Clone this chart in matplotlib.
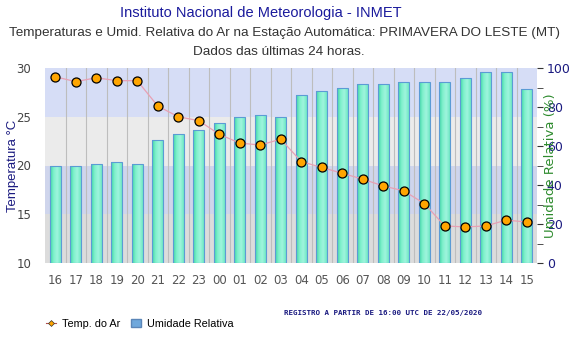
import matplotlib
matplotlib.use("Agg")
import matplotlib.pyplot as plt
import numpy as np
from matplotlib.lines import Line2D
from matplotlib.patches import Patch
from matplotlib.colors import LinearSegmentedColormap

hours = ["16", "17", "18", "19", "20", "21", "22", "23", "00", "01", "02", "03",
         "04", "05", "06", "07", "08", "09", "10", "11", "12", "13", "14", "15"]
temperature = [29.1, 28.6, 29.0, 28.7, 28.7, 26.1, 25.0, 24.6, 23.2, 22.3, 22.1, 22.7,
               20.4, 19.8, 19.2, 18.6, 17.9, 17.4, 16.1, 13.8, 13.7, 13.8, 14.4, 14.2]
humidity = [50, 50, 51, 52, 51, 63, 66, 68, 72, 75, 76, 75,
            86, 88, 90, 92, 92, 93, 93, 93, 95, 98, 98, 89]

title = "Instituto Nacional de Meteorologia - INMET"
subtitle = "Temperaturas e Umid. Relativa do Ar na Estação Automática: PRIMAVERA DO LESTE (MT)"
subtitle2 = "Dados das últimas 24 horas."
note = "REGISTRO A PARTIR DE 16:00 UTC DE 22/05/2020"

fig = plt.figure(figsize=(5.8, 3.5), dpi=100)
fig.patch.set_facecolor("white")
ax = fig.add_axes([45/580, 1-263/350, (537-45)/580, (263-68)/350])
x = np.arange(len(hours))

# background bands
ax.axhspan(75, 100, color="#d6ddf6", zorder=0, lw=0)
ax.axhspan(50, 75, color="#ebebeb", zorder=0, lw=0)
ax.axhspan(25, 50, color="#cfd5ec", zorder=0, lw=0)
ax.axhspan(0, 25, color="#dcdcdc", zorder=0, lw=0)
for b in np.arange(0.5, len(hours)-0.5, 1):
    ax.axvline(b, color="#bdbdbd", lw=0.8, zorder=1)

# bars with horizontal gradient
bars = ax.bar(x, humidity, width=0.52, color="none", edgecolor="#5b9bd5", lw=0.8, zorder=3)
grad = np.linspace(0, 1, 64).reshape(1, -1)
cmap = LinearSegmentedColormap.from_list("g", ["#3fd6a6", "#7ff0cc", "#9ff5dd", "#6fe8c4"])
for rect in bars:
    x0, w, h = rect.get_x(), rect.get_width(), rect.get_height()
    im = ax.imshow(grad, cmap=cmap, extent=[x0, x0+w, 0, h], aspect="auto", zorder=2)
    im.set_clip_path(rect)
ax.set_xlim(-0.5, len(hours)-0.5)
ax.set_ylim(0, 100)
ax.set_xticks(x)
ax.set_xticklabels(hours)
ax.tick_params(axis="x", length=0, colors="#555555", labelsize=8.5, pad=8)
for s in ax.spines.values():
    s.set_visible(False)

# temperature axis
ax_t = ax.twinx()
ax_t.set_ylim(10, 30)
ax_t.yaxis.tick_left()
ax_t.yaxis.set_label_position("left")
ax_t.set_yticks(np.arange(10, 31, 5))
ax_t.tick_params(axis="y", length=0, colors="#444444", labelsize=8.5, pad=10)
ax_t.set_ylabel("Temperatura °C", color="#1a1a80", fontsize=9.5,
                family="Liberation Sans")
ax_t.yaxis.set_label_coords(-0.053, 0.5)
for s in ax_t.spines.values():
    s.set_visible(False)
ax_t.plot(x, temperature, color="#e8a0b4", lw=0.9, zorder=4)
ax_t.plot(x, temperature, ls="none", marker="o", ms=6.5, mfc="#ffa500", mec="black",
          mew=0.9, zorder=5)

# humidity axis on right
ax.yaxis.tick_right()
ax.yaxis.set_label_position("right")
ax.set_yticks(np.arange(0, 101, 20))
ax.set_yticks(np.arange(10, 100, 20), minor=True)
ax.tick_params(axis="y", which="both", labelcolor="#1a1a80", color="#333333",
               labelsize=9, length=4, direction="out", pad=3, left=False,
               labelleft=False, right=True, labelright=True)
ax.set_ylabel("Umidade Relativa (%)", color="#2e8b2e", fontsize=9.5, rotation=90,
              labelpad=-19, family="DejaVu Sans")

# titles
fig.text(0.45, 1-13/350, title, ha="center", va="center", color="#1a1a9c",
         fontsize=10.5, family="Liberation Sans")
fig.text(0.49, 1-33/350, subtitle, ha="center", va="center", color="#333333",
         fontsize=9.7, family="Liberation Sans")
fig.text(0.48, 1-52/350, subtitle2, ha="center", va="center", color="#333333",
         fontsize=9.7, family="Liberation Sans")
fig.text(482/580, 1-313/350, note, ha="right", va="center", color="#1a1a80",
         fontsize=5.4, family="DejaVu Sans Mono", weight="bold")

# legend
handles = [Line2D([0], [0], color="#b05050", lw=0.8, marker="D", ms=3,
                  mfc="#ffa500", mec="#333333", mew=0.5),
           Patch(facecolor="#6fa8dc", edgecolor="#5b86b8")]
fig.legend(handles, ["Temp. do Ar", "Umidade Relativa"], loc="center left",
           bbox_to_anchor=(36/580, 1-324/350), ncol=2, frameon=False,
           handlelength=0.9, handleheight=0.7, columnspacing=1.0,
           handletextpad=0.6, prop={"family": "Liberation Sans", "size": 7.8})

fig.savefig("out.png", dpi=100)
